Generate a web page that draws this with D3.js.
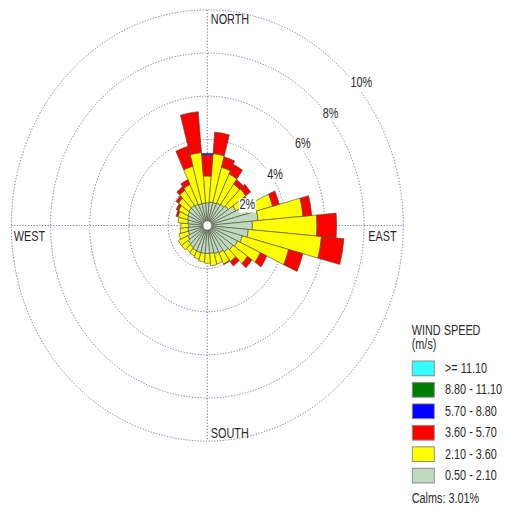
<!DOCTYPE html>
<html>
<head>
<meta charset="utf-8">
<script src="https://cdn.jsdelivr.net/npm/d3@7"></script>
<style>
  html, body { margin: 0; padding: 0; background: #fff; }
  svg { display: block; }
  text { font-family: "Liberation Sans", Arial, sans-serif; fill: #2b2b2b; }
</style>
</head>
<body>
<div id="chart"></div>
<script>
// Wind direction sectors (degrees, clockwise from north), 10° each
const directions = [0, 10, 20, 30, 40, 50, 60, 70, 80, 90, 100, 110,
                    120, 130, 140, 150, 160, 170, 180, 190, 200, 210, 220, 230,
                    240, 250, 260, 270, 280, 290, 300, 310, 320, 330, 340, 350];

// Frequency (%) of each speed class per direction sector
const speed050_210 = [1.05, 1.10, 1.10, 1.15, 1.20, 1.30, 1.60, 2.10, 2.60, 2.30, 2.10, 1.85,
                      1.70, 1.60, 1.50, 1.40, 1.35, 1.30, 1.30, 1.30, 1.30, 1.30, 1.25, 1.20,
                      1.10, 1.00, 1.00, 0.95, 1.00, 1.05, 1.10, 1.15, 1.15, 1.10, 1.05, 1.05];
const speed210_360 = [1.25, 2.25, 1.70, 1.49, 1.15, 1.10, 0.60, 1.35, 2.30, 3.30, 3.75, 2.45,
                      1.28, 0.90, 0.55, 0.57, 0.50, 0.58, 0.45, 0.40, 0.32, 0.26, 0.27, 0.40,
                      0.52, 0.50, 0.40, 0.40, 0.50, 0.50, 0.52, 0.65, 0.85, 1.00, 1.80, 2.35];
const speed360_570 = [0.98, 1.00, 0.50, 0.49, 0.25, 0.30, 0.15, 0.35, 0.45, 1.00, 1.15, 0.75,
                      0.37, 0.28, 0.25, 0.03, 0.00, 0.00, 0.00, 0.00, 0.00, 0.00, 0.00, 0.00,
                      0.00, 0.00, 0.00, 0.00, 0.00, 0.10, 0.13, 0.15, 0.20, 0.25, 0.95, 1.90];
const speed570_880 = [0.07, 0, 0, 0, 0, 0, 0, 0, 0, 0, 0, 0,
                      0, 0, 0, 0, 0, 0, 0, 0, 0, 0, 0, 0,
                      0, 0, 0, 0, 0, 0, 0, 0, 0, 0, 0, 0];
const speed880_1110 = directions.map(() => 0);
const speedOver1110 = directions.map(() => 0);

// Speed class labels (legend order, top to bottom) and colours
const classLabels = [">= 11.10", "8.80 - 11.10", "5.70 - 8.80", "3.60 - 5.70", "2.10 - 3.60", "0.50 - 2.10"];
const classColors = ["#33ffff", "#007d00", "#0000ff", "#ff0000", "#ffff00", "#bfd8c0"];

// Ring ticks and axis labels
const ringTicks = [2, 4, 6, 8, 10];
const ringLabels = ["2%", "4%", "6%", "8%", "10%"];
const compassLabels = ["NORTH", "EAST", "SOUTH", "WEST"];
const legendTitle = ["WIND SPEED", "(m/s)"];
const calmsText = "Calms: 3.01%";

// ---- layout ----
const W = 505, H = 510, SY = 1.1;          // drawing is stretched vertically
const VH = H / SY;
const cx = 207.3, cy = 205;
const R = d3.scaleLinear().domain([0, 10]).range([0, 196]);
const toRad = d => d * Math.PI / 180;
const textScale = 0.87;

const svg = d3.select("#chart").append("svg")
  .attr("width", W).attr("height", H)
  .attr("viewBox", `0 0 ${W} ${VH}`)
  .attr("preserveAspectRatio", "none");

const g = svg.append("g").attr("transform", `translate(${cx},${cy})`);

// grid rings and axes
const gridColor = "#6e6e9e";
g.selectAll("circle.ring").data(ringTicks).join("circle")
  .attr("class", "ring")
  .attr("r", d => R(d))
  .attr("fill", "none")
  .attr("stroke", gridColor)
  .attr("stroke-width", 0.9)
  .attr("stroke-dasharray", "1.2,1.6");

const rMax = R(d3.max(ringTicks));
g.append("line").attr("x1", 0).attr("x2", 0).attr("y1", -rMax).attr("y2", rMax)
  .attr("stroke", gridColor).attr("stroke-width", 0.9).attr("stroke-dasharray", "1.2,1.6");
g.append("line").attr("x1", -rMax).attr("x2", rMax).attr("y1", 0).attr("y2", 0)
  .attr("stroke", gridColor).attr("stroke-width", 0.9).attr("stroke-dasharray", "1.2,1.6");

// stacked sectors
const keys = ["c0", "c1", "c2", "c3", "c4", "c5"];
const rows = directions.map((d, i) => ({
  dir: d,
  c0: speed050_210[i], c1: speed210_360[i], c2: speed360_570[i],
  c3: speed570_880[i], c4: speed880_1110[i], c5: speedOver1110[i]
}));
const stacked = d3.stack().keys(keys)(rows);
const stackColors = classColors.slice().reverse();   // slowest class innermost
const halfWidth = 5;

const arc = d3.arc()
  .innerRadius(d => R(d[0]))
  .outerRadius(d => R(d[1]))
  .startAngle(d => toRad(d.data.dir - halfWidth))
  .endAngle(d => toRad(d.data.dir + halfWidth));

stacked.forEach((layer, li) => {
  g.append("g").selectAll("path")
    .data(layer.filter(d => d[1] - d[0] > 0))
    .join("path")
    .attr("d", arc)
    .attr("fill", stackColors[li])
    .attr("stroke", "#4d4d3a")
    .attr("stroke-width", 0.6)
    .attr("stroke-linejoin", "miter");
});

// calm circle
g.append("circle").attr("r", 4.2).attr("fill", "#fff")
  .attr("stroke", "#777").attr("stroke-width", 0.6);

// helper: condensed text
function addText(parent, x, y, str, size, anchor) {
  const t = parent.append("g").attr("transform", `translate(${x},${y}) scale(${textScale},1)`);
  t.append("text").attr("font-size", size).attr("text-anchor", anchor || "start").text(str);
  return t;
}

// ring labels along the 45° bearing, on a white backing
ringTicks.forEach((p, i) => {
  const px = R(p) * Math.sin(toRad(45)) + 4.5;
  const py = -R(p) * Math.cos(toRad(45)) + 13;
  const lg = addText(g, px, py, ringLabels[i], 12.5);
  const bb = lg.select("text").node().getBBox();
  lg.insert("rect", "text")
    .attr("x", bb.x - 1).attr("y", bb.y + 1)
    .attr("width", bb.width + 2).attr("height", bb.height - 1)
    .attr("fill", "#fff");
});

// compass labels
const compassPos = [
  [3.5, -R(10) + 12.5, "start"],
  [R(10) - 35, 14.5, "start"],
  [3.5, R(10) - 3, "start"],
  [-R(10) + 2.5, 14.5, "start"]
];
compassLabels.forEach((s, i) => {
  addText(g, compassPos[i][0], compassPos[i][1], s, 12.5, compassPos[i][2]);
});

// legend
const lx = 411.7;
const legend = svg.append("g");
addText(legend, lx, 304.5, legendTitle[0], 12.5);
addText(legend, lx, 317.5, legendTitle[1], 12.5);

const boxTop = 328.2, boxStep = 19.5, boxW = 22, boxH = 13.4;
classLabels.forEach((lab, i) => {
  const y = boxTop + i * boxStep;
  legend.append("rect")
    .attr("x", lx + 0.6).attr("y", y)
    .attr("width", boxW).attr("height", boxH)
    .attr("fill", classColors[i])
    .attr("stroke", "#8a8a8a").attr("stroke-width", 0.9);
  addText(legend, 445, y + 10.8, lab, 12.5);
});
addText(legend, lx, 457.3, calmsText, 12.5);
</script>
</body>
</html>
